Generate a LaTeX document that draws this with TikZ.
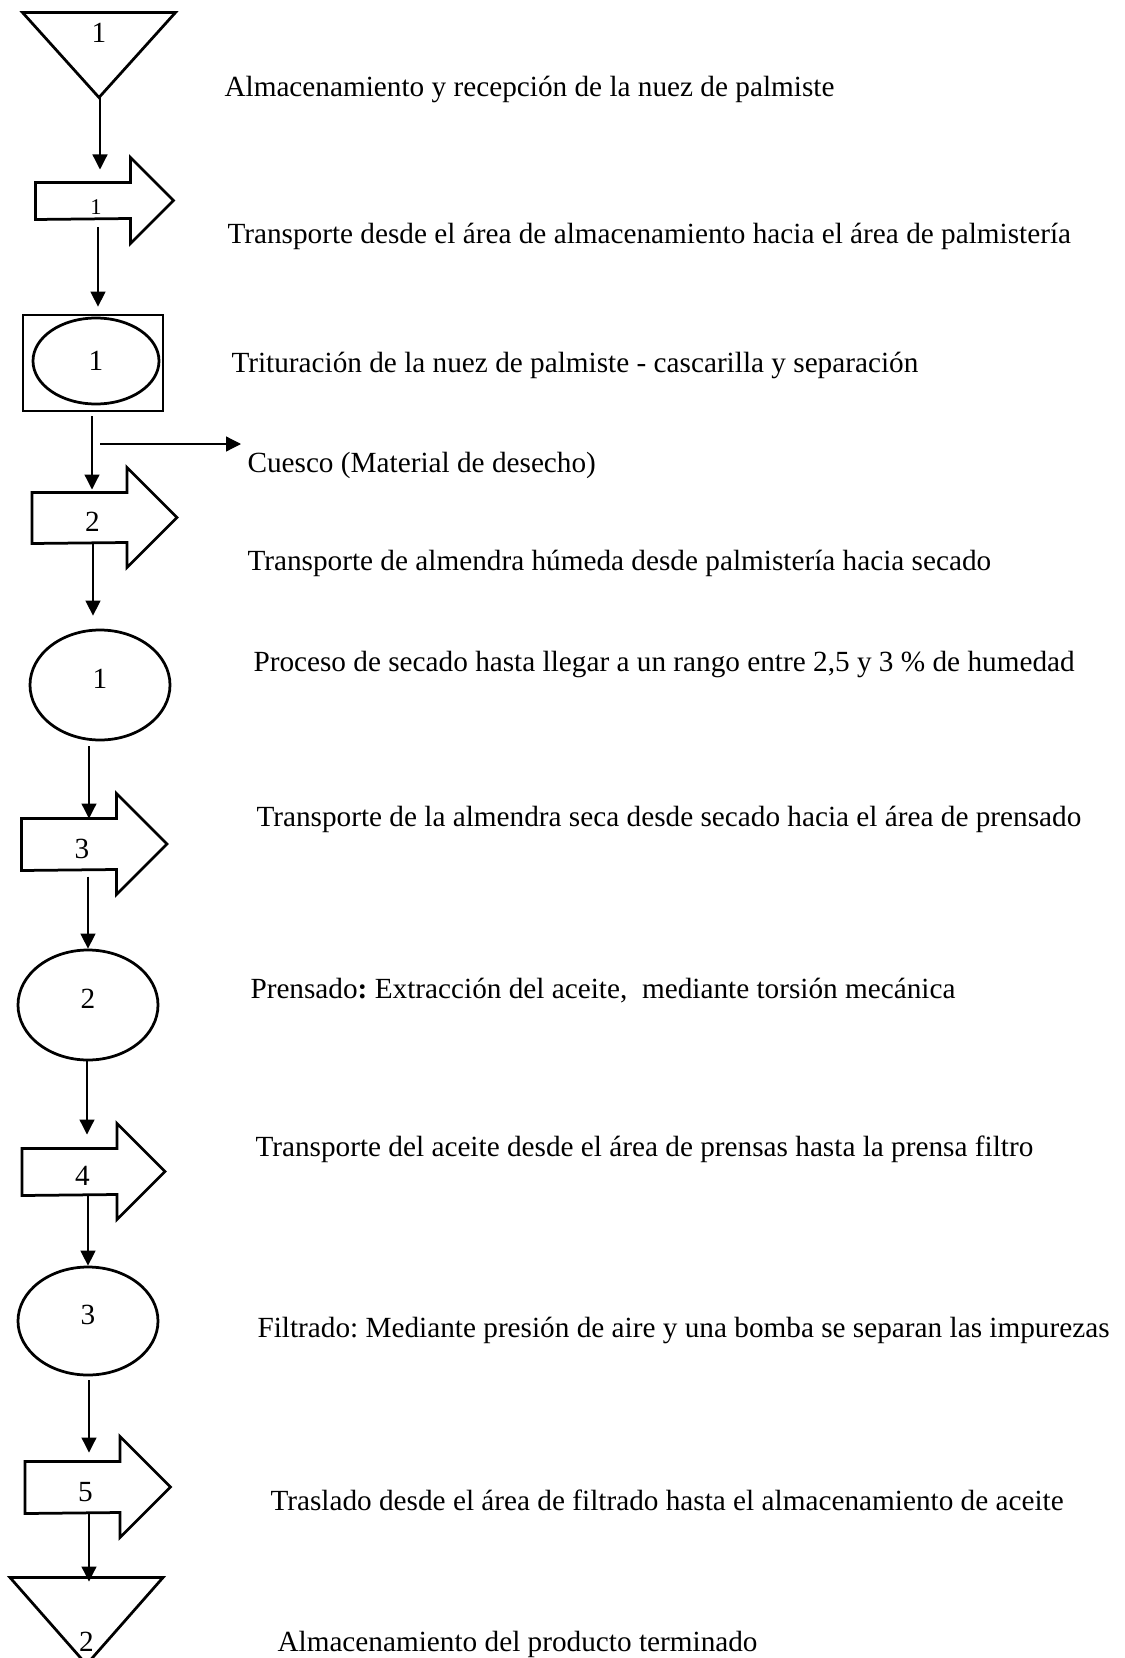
\documentclass[tikz,border=0pt]{standalone}
\usepackage{fontspec}
\setmainfont{Liberation Serif}
\frenchspacing
\usetikzlibrary{positioning,arrows.meta,shapes.geometric}
\tikzset{
  shp/.style={line width=1.1pt},
  almac/.style={minimum width=60.8pt, minimum height=0.4pt*#1, inner sep=0pt,
    append after command={\pgfextra{\draw[shp] (\tikzlastnode.north west) -- (\tikzlastnode.north east) -- (\tikzlastnode.south) -- cycle;}}},
  transp/.style={minimum width=48pt, minimum height=0.4pt*#1, inner sep=0pt, text height=11pt,
    append after command={\pgfextra{\draw[shp] (\tikzlastnode.south west) -- (\tikzlastnode.north west) -- ([shift={(95,0)}]\tikzlastnode.north west) -- ++(0,-25) -- ++(#1/2+25,#1/2+25) -- ++(-#1/2-25,#1/2+25) -- ++(0,-25) -- cycle;}}},
  oper/.style={draw, ellipse, shp, inner sep=0pt, minimum width=56pt, minimum height=44pt, text depth=5pt},
  insp/.style={draw, rectangle, shp, inner sep=0pt, minimum width=56pt, minimum height=38.4pt},
  desc/.style={anchor=base west, inner sep=0pt},
  arr/.style={-{Triangle[length=6pt,width=6pt]}, line width=0.5pt},
}
\begin{document}
\begin{tikzpicture}[x=0.4pt, y=-0.4pt, font=\fontsize{11.7}{14}\selectfont]
\useasboundingbox (0,0) rectangle (1125,1658);
% symbols
\node[almac=84, label={[yshift=8.8pt]center:1}] (s1) at (99,55) {};
\node[transp=36, font=\fontsize{9}{10}\selectfont] (t1) at (96,201) {1};
\node[insp] (box) at (93,363) {};
\node[oper, minimum width=50.4pt, minimum height=34.4pt, text depth=0pt] (e0) at (96,361) {1};
\node[transp=50] (t2) at (92.5,518) {2};
\node[oper] (e1) at (100,685) {1};
\node[transp=51] (t3) at (82,844.5) {3};
\node[oper] (e2) at (88,1005) {2};
\node[transp=46] (t4) at (82.5,1172) {4};
\node[oper, minimum height=43.2pt] (e3) at (88,1321) {3};
\node[transp=51] (t5) at (85.5,1487.5) {5};
\node[almac=86, label={[yshift=-8.4pt]center:2}] (s2) at (86.5,1621) {};
% descriptions
\node[desc] (d1) at (224,97) {Almacenamiento y recepción de la nuez de palmiste};
\node[desc] (d2) at (227,244) {Transporte desde el área de almacenamiento hacia el área de palmistería};
\node[desc] (d3) at (231,372) {Trituración de la nuez de palmiste - cascarilla y separación};
\node[desc] (d4) at (247,472) {Cuesco (Material de desecho)};
\node[desc] (d5) at (247,570) {Transporte de almendra húmeda desde palmistería hacia secado};
\node[desc] (d6) at (253,671) {Proceso de secado hasta llegar a un rango entre 2,5 y 3 \% de humedad};
\node[desc] (d7) at (256,826) {Transporte de la almendra seca desde secado hacia el área de prensado};
\node[desc] (d8) at (250,998) {Prensado\textbf{:} Extracción del aceite, \ mediante torsión mecánica};
\node[desc] (d9) at (255,1156) {Transporte del aceite desde el área de prensas hasta la prensa filtro};
\node[desc] (d10) at (257,1337) {Filtrado: Mediante presión de aire y una bomba se separan las impurezas};
\node[desc] (d11) at (270,1510) {Traslado desde el área de filtrado hasta el almacenamiento de aceite};
\node[desc] (d12) at (277,1651) {Almacenamiento del producto terminado};
% flow
\foreach \a/\b/\xx/\sa/\sb in {s1/t1/100/0/5.2, t1/box/98/3.2/2.8, box/t2/92/1.6/1.2, t2/e1/93/0/5.2,
  e1/t3/89/2/0, t3/e2/88/2.4/0, e2/t4/87/0/5.6, t4/e3/88/0/0, e3/t5/89/1.6/3.6, t5/s2/89/0/-1.6}
  {\draw[arr, shorten <=\sa pt, shorten >=\sb pt] (\xx,0 |- \a.south) -- (\xx,0 |- \b.north);}
\coordinate (dsal) at (100,444);
\draw[arr, shorten >=2.4pt] (dsal) -- (dsal -| d4.west);
\end{tikzpicture}
\end{document}
